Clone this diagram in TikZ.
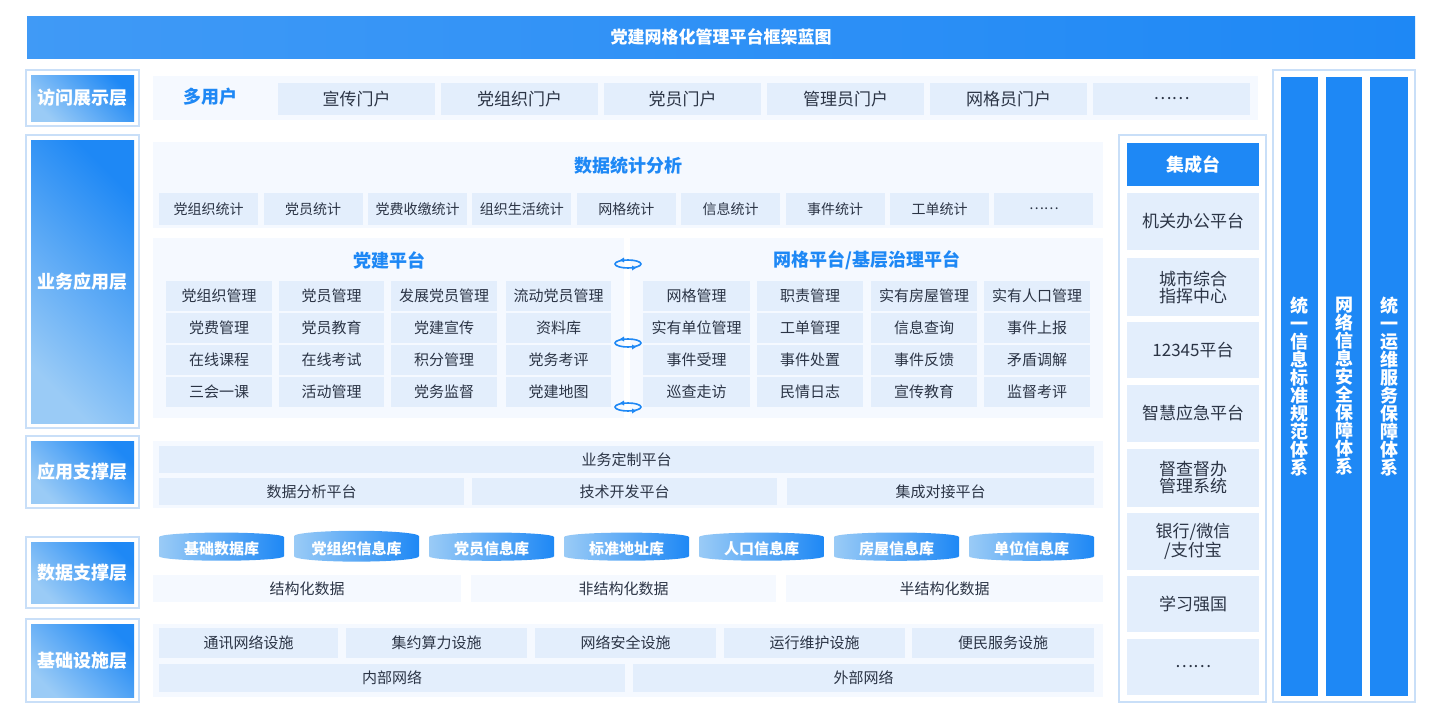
\documentclass[tikz,border=0pt]{standalone}
\usepackage{fontspec}
\newfontfamily\cjk{Noto Sans CJK SC}
\usetikzlibrary{shapes.geometric,arrows.meta}
\definecolor{mainblue}{HTML}{1E88F5}
\definecolor{lightblue}{HTML}{9ACBF6}
\definecolor{panelbg}{HTML}{F5F9FF}
\definecolor{cellbg}{HTML}{E3EEFC}
\definecolor{framebd}{HTML}{C9DFF8}
\definecolor{txt}{HTML}{2B3445}
\tikzset{
  fs/.style={font=\cjk\fontsize{#1}{#1}\selectfont},
  fsb/.style={font=\cjk\bfseries\fontsize{#1}{#1}\selectfont},
  panel/.style={fill=panelbg, draw=none, inner sep=0},
  cell/.style={fill=cellbg, text=txt, fs=15, inner sep=0, anchor=center},
  frame/.style={draw=framebd, line width=1.2pt, fill=white, inner sep=0},
  layer/.style={left color=lightblue, right color=mainblue, shading angle=135, text=white, fsb=18, inner sep=0},
  ptitle/.style={text=mainblue, fsb=18},
  db/.style={cylinder, shape border rotate=90, aspect=0.12, left color=lightblue, right color=mainblue,
             text=white, fsb=15, minimum width=125pt, minimum height=27pt, inner sep=0},
  bar/.style={fill=mainblue, text=white, fsb=18, align=center, inner sep=0},
  sync/.style={draw=mainblue, line width=1.6pt},
}
\begin{document}
\begin{tikzpicture}[x=1pt, y=-1pt]
\useasboundingbox (0,0) rectangle (1440,720);
\fill[white] (0,0) rectangle (1440,720);

% title
\node[left color=mainblue!85, right color=mainblue, minimum width=1388pt, minimum height=42pt, inner sep=0,
      text=white, fsb=17] (title) at (721,37) {党建网格化管理平台框架蓝图};

% layer labels
\foreach \t/\ya/\yb [count=\i] in {访问展示层/70/126, 业务应用层/135/428, 应用支撑层/436/508,
                                    数据支撑层/537/608, 基础设施层/619/702}{
  \node[frame, minimum width=113pt, minimum height=\yb-\ya] (lf\i) at (82.5,{(\ya+\yb)/2}) {};
  \node[layer, minimum width=103pt, minimum height=\yb-\ya-10] (lay\i) at (82.5,{(\ya+\yb)/2}) {\t};
}

% access layer
\node[panel, minimum width=1105pt, minimum height=44pt] (acc) at (705.5,98) {};
\node[ptitle] (multi) at (210,97) {多用户};
\foreach \t [count=\i] in {宣传门户,党组织门户,党员门户,管理员门户,网格员门户,……}
  \node[cell, fs=17, minimum width=157pt, minimum height=32pt] (port\i) at ({356.5+(\i-1)*163},99) {\t};

% statistics
\node[panel, minimum width=950pt, minimum height=86pt] (stat) at (628,185) {};
\node[ptitle] (stattitle) at (628,166) {数据统计分析};
\foreach \t [count=\i] in {党组织统计,党员统计,党费收缴统计,组织生活统计,网格统计,信息统计,事件统计,工单统计,……}
  \node[cell, fs=14, minimum width=99pt, minimum height=32pt] (st\i) at ({208.7+(\i-1)*104.4},209) {\t};

% party building platform
\node[panel, minimum width=471pt, minimum height=180pt] (party) at (388.5,328) {};
\node[ptitle] (partytitle) at (389,260) {党建平台};
\foreach \a/\b/\c/\d [count=\r] in {党组织管理/党员管理/发展党员管理/流动党员管理,
    党费管理/党员教育/党建宣传/资料库, 在线课程/在线考试/积分管理/党务考评,
    三会一课/活动管理/党务监督/党建地图}{
  \node[cell, minimum width=106pt, minimum height=30pt] (pa\r) at (219,{296+(\r-1)*32}) {\a};
  \node[cell, minimum width=105pt, minimum height=30pt] (pb\r) at (331.5,{296+(\r-1)*32}) {\b};
  \node[cell, minimum width=106pt, minimum height=30pt] (pc\r) at (444,{296+(\r-1)*32}) {\c};
  \node[cell, minimum width=105pt, minimum height=30pt] (pd\r) at (558.5,{296+(\r-1)*32}) {\d};
}

% grid platform
\node[panel, minimum width=473pt, minimum height=180pt] (grid) at (866.5,328) {};
\node[ptitle] (gridtitle) at (867,260) {网格平台/基层治理平台};
\foreach \a/\b/\c/\d [count=\r] in {网格管理/职责管理/实有房屋管理/实有人口管理,
    实有单位管理/工单管理/信息查询/事件上报, 事件受理/事件处置/事件反馈/矛盾调解,
    巡查走访/民情日志/宣传教育/监督考评}{
  \node[cell, minimum width=107pt, minimum height=30pt] (ga\r) at (696.5,{296+(\r-1)*32}) {\a};
  \node[cell, minimum width=106pt, minimum height=30pt] (gb\r) at (810,{296+(\r-1)*32}) {\b};
  \node[cell, minimum width=106pt, minimum height=30pt] (gc\r) at (924,{296+(\r-1)*32}) {\c};
  \node[cell, minimum width=106pt, minimum height=30pt] (gd\r) at (1037,{296+(\r-1)*32}) {\d};
}

% sync icons
\foreach \y in {264,343,407}{
  \draw[sync] (628,\y) ellipse (13 and 4);
  \fill[mainblue] (620,\y-4) -- ++(4,-2.5) -- ++(0,5) -- cycle;
  \fill[mainblue] (636,\y+4) -- ++(-4,-2.5) -- ++(0,5) -- cycle;
}

% application support
\node[panel, minimum width=950pt, minimum height=67pt] (sup) at (628,474.5) {};
\node[cell, minimum width=935pt, minimum height=27pt] (cust) at (626.5,459.5) {业务定制平台};
\node[cell, minimum width=305pt, minimum height=27pt] (ana) at (311.5,491.5) {数据分析平台};
\node[cell, minimum width=305pt, minimum height=27pt] (dev) at (624.5,491.5) {技术开发平台};
\node[cell, minimum width=307pt, minimum height=27pt] (integ) at (940.5,491.5) {集成对接平台};

% data support
\foreach \t [count=\i] in {基础数据库,党组织信息库,党员信息库,标准地址库,人口信息库,房屋信息库,单位信息库}
  \node[db] (db\i) at ({221.5+(\i-1)*135},549) {\t};
\node[panel, minimum width=308pt, minimum height=27pt, text=txt, fs=15] (sd) at (307,588.5) {结构化数据};
\node[panel, minimum width=305pt, minimum height=27pt, text=txt, fs=15] (ud) at (623.5,588.5) {非结构化数据};
\node[panel, minimum width=317pt, minimum height=27pt, text=txt, fs=15] (hd) at (944.5,588.5) {半结构化数据};

% infrastructure
\node[panel, minimum width=950pt, minimum height=73pt] (infra) at (628,660.5) {};
\foreach \t/\xa/\xb [count=\i] in {通讯网络设施/159/338, 集约算力设施/346/527, 网络安全设施/535/716,
                                   运行维护设施/724/905, 便民服务设施/912/1094}
  \node[cell, minimum width=\xb-\xa, minimum height=30pt] (inf\i) at ({(\xa+\xb)/2},643) {\t};
\node[cell, minimum width=466pt, minimum height=28pt] (innet) at (392,678) {内部网络};
\node[cell, minimum width=461pt, minimum height=28pt] (outnet) at (863.5,678) {外部网络};

% integration
\node[frame, minimum width=147pt, minimum height=567pt] (intf) at (1192.5,418.5) {};
\node[fill=mainblue, text=white, fsb=18, minimum width=132pt, minimum height=43pt, inner sep=0]
  (inttitle) at (1193,164.5) {集成台};
\foreach \t/\ya/\yb [count=\i] in {机关办公平台/193/250, 城市综合\\指挥中心/258/316, 12345平台/322/378,
    智慧应急平台/385/442, 督查督办\\管理系统/449/507, {银行/微信\\/支付宝}/513/570,
    学习强国/576/632, ……/639/695}
  \node[cell, fs=17, align=center, minimum width=132pt, minimum height=\yb-\ya] (int\i) at (1193,{(\ya+\yb)/2}) {\t};

% standards
\node[frame, minimum width=142pt, minimum height=632pt] (stdf) at (1344,386) {};
\node[bar, minimum width=37pt, minimum height=619pt] (std1) at (1299.5,386.5) {统\\一\\信\\息\\标\\准\\规\\范\\体\\系};
\node[bar, minimum width=36pt, minimum height=619pt] (std2) at (1344,386.5) {网\\络\\信\\息\\安\\全\\保\\障\\体\\系};
\node[bar, minimum width=38pt, minimum height=619pt] (std3) at (1389,386.5) {统\\一\\运\\维\\服\\务\\保\\障\\体\\系};
\end{tikzpicture}
\end{document}
